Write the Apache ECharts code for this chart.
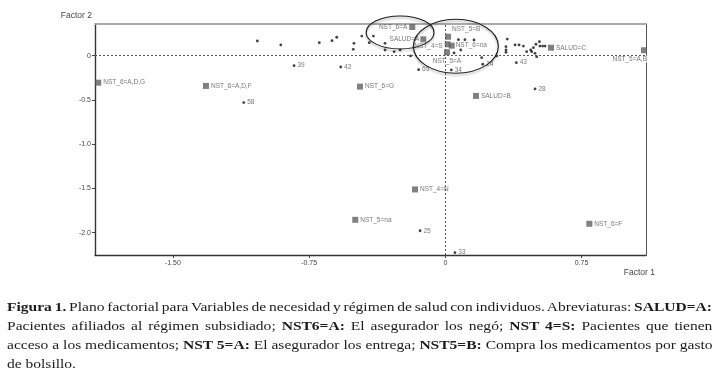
<!DOCTYPE html>
<html>
<head>
<meta charset="utf-8">
<script src="https://cdn.jsdelivr.net/npm/echarts@6/dist/echarts.min.js"></script>
<style>
body { margin: 0; background: #fff; }
#chart { position: absolute; left: 0; top: 0; width: 719px; height: 372px; }
.caption { position: absolute; left: 7px; top: 297px; width: 705px; font-family: 'Liberation Serif', serif; font-size: 13px; line-height: 19px; color: #1b1b1b; transform-origin: 0 0; }
.caption div { white-space: nowrap; }
</style>
</head>
<body>
<div id="chart"></div>
<div class="caption">
    <div class="j"><span><b>Figura 1.</b> Plano factorial para Variables de necesidad y régimen de salud con individuos. Abreviaturas: <b>SALUD=A:</b></span></div>
    <div class="j"><span>Pacientes afiliados al régimen subsidiado; <b>NST6=A:</b> El asegurador los negó; <b>NST 4=S:</b> Pacientes que tienen</span></div>
    <div class="j"><span>acceso a los medicamentos; <b>NST 5=A:</b> El asegurador los entrega; <b>NST5=B:</b> Compra los medicamentos por gasto</span></div>
    <div><span>de bolsillo.</span></div>
</div>
<script>
// modalidades (cuadrados)
const catNames = ['NST_6=A,D,G', 'NST_6=A,D,F', 'NST_6=G', 'NST_6=A', 'SALUD=A', 'NST_5=B', 'NST_4=S', 'NST_6=na', 'NST_5=A', 'SALUD=B', 'SALUD=C', 'NST_5=A,B', 'NST_4=N', 'NST_5=na', 'NST_6=F']
const catX = [-1.911, -1.318, -0.470, -0.182, -0.121, 0.015, 0.013, 0.035, 0.009, 0.169, 0.582, 1.094, -0.167, -0.496, 0.793]
const catY = [-0.305, -0.342, -0.350, 0.324, 0.185, 0.214, 0.129, 0.113, 0.038, -0.455, 0.090, 0.061, -1.512, -1.855, -1.900]

// individuos con numero
const indNames = ['39', '58', '42', '65', '34', '24', '43', '28', '25', '33']
const indX = [-0.833, -1.110, -0.576, -0.147, 0.033, 0.206, 0.391, 0.494, -0.139, 0.053]
const indY = [-0.113, -0.530, -0.128, -0.158, -0.161, -0.097, -0.079, -0.376, -1.979, -2.227]

// individuos sin etiqueta
const dotX = [-1.035, -0.906, -0.694, -0.624, -0.598, -0.503, -0.507, -0.460, -0.396, -0.419, -0.332, -0.332, -0.282, -0.249, -0.191,
    0.072, 0.108, 0.158, 0.085, 0.200, 0.283, 0.341, 0.334, 0.334, 0.334, 0.384, 0.406, 0.448, 0.470, 0.485,
    0.499, 0.518, 0.521, 0.536, 0.549, 0.494, 0.476, 0.503, 0.430, 0.048]
const dotY = [0.166, 0.121, 0.147, 0.169, 0.208, 0.140, 0.072, 0.222, 0.222, 0.147, 0.140, 0.064, 0.045, 0.064, -0.003,
    0.181, 0.181, 0.177, 0.064, -0.023, -0.003, 0.188, 0.102, 0.064, 0.038, 0.121, 0.121, 0.045, 0.064, 0.090,
    0.129, 0.158, 0.109, 0.109, 0.109, 0.027, 0.045, -0.011, 0.109, 0.030]

// ejes
const xTicks = [-1.5, -0.75, 0, 0.75]
const xTickLabels = ['-1.50', '-0.75', '0', '0.75']
const yTicks = [0, -0.5, -1.0, -1.5, -2.0]
const yTickLabels = ['0', '-0.5', '-1.0', '-1.5', '-2.0']
const xRange = [-1.929, 1.105]
const yRange = [-2.253, 0.358]

// elipses dibujadas a mano: centro x, centro y, radio x, radio y (unidades de los ejes)
const ellipses = [
    [-0.249, 0.262, 0.187, 0.186],
    [0.058, 0.106, 0.234, 0.305]
]

const labelPlace = {
    'NST_6=A': { position: 'left', distance: 2 },
    'SALUD=A': { position: 'left', distance: 1 },
    'NST_4=S': { position: 'left', distance: 2, offset: [0, 2] },
    'NST_6=na': { position: 'right', distance: 1 },
    'NST_5=B': { position: 'right', distance: 1, offset: [0, -8] },
    'NST_5=A': { position: 'bottom', distance: 2 },
    'NST_5=A,B': { position: 'left', distance: 2, offset: [8, 9], backgroundColor: '#fff' }
}

const labelFont = { fontSize: 6.5, color: '#555', fontFamily: 'Liberation Sans' }

const chart = echarts.init(document.getElementById('chart'))

const option = {
    animation: false,
    textStyle: { fontFamily: 'Liberation Sans' },
    grid: { left: 95, right: 73, top: 24, bottom: 117 },
    xAxis: [
        {
            type: 'value',
            min: xRange[0],
            max: xRange[1],
            name: 'Factor 1',
            nameLocation: 'end',
            nameGap: 9,
            nameTextStyle: { align: 'right', verticalAlign: 'top', padding: [13, 0, 0, 0], fontSize: 8.5, color: '#444' },
            axisLine: { onZero: false, lineStyle: { color: '#333', width: 1.4 } },
            axisTick: { customValues: xTicks, length: 3, lineStyle: { color: '#444' } },
            axisLabel: {
                customValues: xTicks,
                margin: 5,
                fontSize: 7,
                color: '#444',
                formatter: (val) => xTickLabels[xTicks.indexOf(val)]
            },
            splitLine: { show: false }
        },
        {
            type: 'value',
            position: 'top',
            min: xRange[0],
            max: xRange[1],
            axisLine: { onZero: false, lineStyle: { color: '#aaa', width: 2 } },
            axisTick: { show: false },
            axisLabel: { show: false },
            splitLine: { show: false }
        }
    ],
    yAxis: [
        {
            type: 'value',
            min: yRange[0],
            max: yRange[1],
            name: 'Factor 2',
            nameLocation: 'end',
            nameGap: 4,
            nameTextStyle: { align: 'right', verticalAlign: 'bottom', padding: [0, 3, 0, 0], fontSize: 8.5, color: '#444' },
            axisLine: { onZero: false, lineStyle: { color: '#333', width: 1.4 } },
            axisTick: { customValues: yTicks, length: 3, lineStyle: { color: '#444' } },
            axisLabel: {
                customValues: yTicks,
                margin: 4,
                fontSize: 7,
                color: '#444',
                formatter: (val) => yTickLabels[yTicks.indexOf(val)]
            },
            splitLine: { show: false }
        },
        {
            type: 'value',
            position: 'right',
            min: yRange[0],
            max: yRange[1],
            axisLine: { onZero: false, lineStyle: { color: '#555', width: 1 } },
            axisTick: { show: false },
            axisLabel: { show: false },
            splitLine: { show: false }
        }
    ],
    series: [
        {
            name: 'individuos',
            type: 'scatter',
            symbol: 'circle',
            symbolSize: 2.8,
            itemStyle: { color: '#111' },
            data: dotX.map((x, i) => [x, dotY[i]]),
            markLine: {
                silent: true,
                symbol: ['none', 'none'],
                label: { show: false },
                lineStyle: { type: [2, 2], color: '#555', width: 1 },
                data: [{ xAxis: 0 }, { yAxis: 0 }]
            }
        },
        {
            name: 'individuos etiquetados',
            type: 'scatter',
            symbol: 'circle',
            symbolSize: 2.8,
            itemStyle: { color: '#111' },
            label: { show: true, position: 'right', distance: 2, formatter: '{b}', ...labelFont },
            data: indNames.map((n, i) => ({ name: n, value: [indX[i], indY[i]] }))
        },
        {
            name: 'modalidades',
            type: 'scatter',
            symbol: 'rect',
            symbolSize: 6,
            clip: false,
            itemStyle: { color: '#606060' },
            label: { show: true, position: 'right', distance: 2, formatter: '{b}', ...labelFont },
            data: catNames.map((n, i) => {
                const item = { name: n, value: [catX[i], catY[i]] }
                if (labelPlace[n]) item.label = { ...labelPlace[n] }
                return item
            })
        }
    ]
}
chart.setOption(option)

// elipses de agrupamiento
const drawEllipses = () => {
    const graphic = ellipses.map(([cx, cy, rx, ry]) => {
        const c = chart.convertToPixel({ gridIndex: 0 }, [cx, cy])
        const e = chart.convertToPixel({ gridIndex: 0 }, [cx + rx, cy + ry])
        return {
            type: 'ellipse',
            silent: true,
            shape: { cx: c[0], cy: c[1], rx: Math.abs(e[0] - c[0]), ry: Math.abs(c[1] - e[1]) },
            style: {
                fill: 'none',
                stroke: '#1a1a1a',
                lineWidth: 1.1,
                shadowColor: 'rgba(0,0,0,0.3)',
                shadowBlur: 2,
                shadowOffsetY: 2
            },
            z: 10
        }
    })
    chart.setOption({ graphic })
}
drawEllipses()

// pie de figura: se estira en horizontal y se justifican las lineas
const caption = document.querySelector('.caption')
const spans = [...caption.querySelectorAll('.j span')]
const scale = 705 / spans[2].getBoundingClientRect().width
caption.style.width = (705 / scale) + 'px'
caption.style.transform = 'scaleX(' + scale + ')'
spans.forEach(span => {
    const spaces = (span.textContent.match(/ /g) || []).length
    const w = span.offsetWidth
    if (spaces) span.style.wordSpacing = ((705 / scale - w) / spaces) + 'px'
})
</script>
</body>
</html>
